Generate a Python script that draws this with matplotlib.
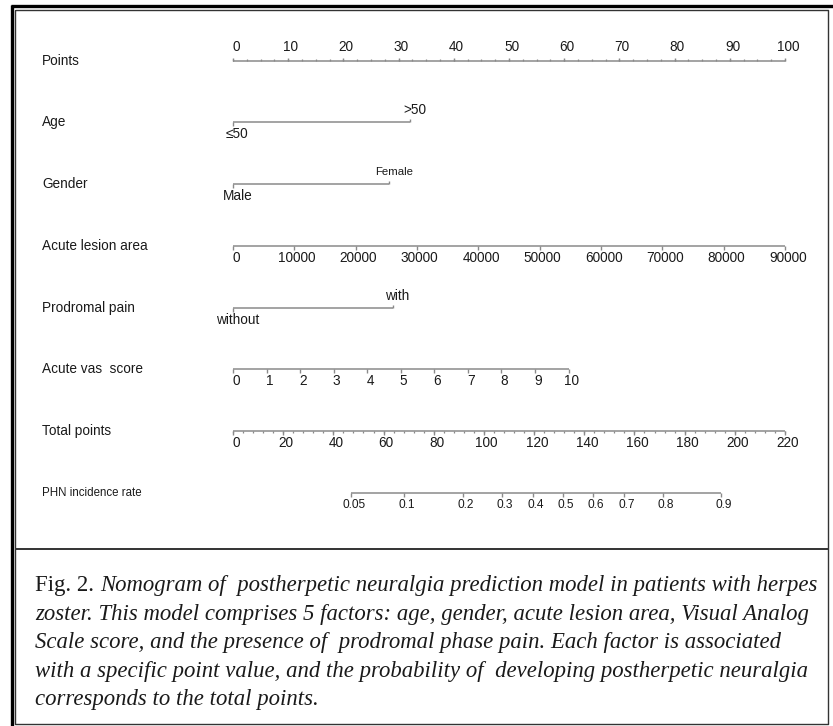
import numpy as np
import matplotlib.pyplot as plt
from matplotlib.lines import Line2D

plt.rcParams['font.family'] = ['Liberation Sans', 'DejaVu Sans']

W, H = 833, 726

# ---- data ----
row_names = ["Points", "Age", "Gender", "Acute lesion area", "Prodromal pain",
             "Acute vas  score", "Total points", "PHN incidence rate"]

points_ticks = np.arange(0, 101, 10)
points_minor = np.arange(0, 100.1, 2.5)

age_labels = ["≤50", ">50"]
age_points = [0, 32.1]
gender_labels = ["Male", "Female"]
gender_points = [0, 28.3]
pain_labels = ["without", "with"]
pain_points = [0, 28.9]

lesion_ticks = np.arange(0, 90001, 10000)
lesion_points_at_max = 100.0      # 90000 -> 100 points
vas_ticks = np.arange(0, 11)
vas_points_at_max = 60.8          # score 10 -> 60.8 points

total_ticks = np.arange(0, 221, 20)
total_minor = np.arange(0, 221, 4)
total_max = 220

phn_labels = ["0.05", "0.1", "0.2", "0.3", "0.4", "0.5", "0.6", "0.7", "0.8", "0.9"]
phn_total_points = [47.0, 68.2, 91.7, 107.2, 119.6, 131.5, 143.5, 155.8, 171.4, 194.5]

caption_lines = [
    "Nomogram of  postherpetic neuralgia prediction model in patients with herpes",
    "zoster. This model comprises 5 factors: age, gender, acute lesion area, Visual Analog",
    "Scale score, and the presence of  prodromal phase pain. Each factor is associated",
    "with a specific point value, and the probability of  developing postherpetic neuralgia",
    "corresponds to the total points.",
]

# ---- layout ----
row_y = [61, 122, 184, 246, 308, 369, 431, 493]
x0_px, x100_px = 233, 785
ppx = (x100_px - x0_px) / 100.0
LINE = '#8a8a8a'
TXT = '#1a1a1a'

fig = plt.figure(figsize=(W / 100, H / 100), dpi=100)
ax = fig.add_axes([0, 0, 1, 1])
ax.set_xlim(-x0_px / ppx, (W - x0_px) / ppx)
ax.set_ylim(H, 0)
ax.axis('off')


def axis_line(y, pos, major, minor=None, direction=1, labels=None, label_dy=12,
              size=9.8, ln=3.5):
    ax.plot([pos[0], pos[-1]], [y, y], color=LINE, lw=1.1, solid_capstyle='butt')
    ax.vlines(major, y, y + direction * ln, color=LINE, lw=1.0)
    if minor is not None:
        ax.vlines(minor, y, y + direction * 1.8, color=LINE, lw=0.9)
    if labels is not None:
        for p, s in zip(major, labels):
            ax.text(p + 0.5, y + label_dy, s, ha='center', va='center',
                    fontsize=size, color=TXT)


def cat_line(y, pos, labels, size_hi=9.8, size_lo=9.8):
    ax.plot([pos[0], pos[1]], [y, y], color=LINE, lw=1.1, solid_capstyle='butt')
    ax.vlines([pos[0]], y, y + 3.5, color=LINE, lw=1.0)
    ax.vlines([pos[1]], y, y - 3.5, color=LINE, lw=1.0)
    ax.text(pos[0] + 0.8, y + 12, labels[0], ha='center', va='center',
            fontsize=size_lo, color=TXT)
    ax.text(pos[1] + 0.8, y - 12, labels[1], ha='center', va='center',
            fontsize=size_hi, color=TXT)


# row titles
for name, y in zip(row_names, row_y):
    fs = 8.3 if name.startswith("PHN") else 9.8
    ax.text(-(x0_px - 42) / ppx, y, name, ha='left', va='center', fontsize=fs, color=TXT)

# Points
axis_line(row_y[0], points_ticks, points_ticks, minor=points_minor, direction=-1,
          labels=[str(v) for v in points_ticks], label_dy=-14)

# categorical rows
cat_line(row_y[1], age_points, age_labels)
cat_line(row_y[2], gender_points, gender_labels, size_hi=8.2)
cat_line(row_y[4], pain_points, pain_labels)

# acute lesion area
lesion_pos = lesion_ticks / lesion_ticks[-1] * lesion_points_at_max
axis_line(row_y[3], lesion_pos, lesion_pos, labels=[str(v) for v in lesion_ticks])

# VAS score
vas_pos = vas_ticks / vas_ticks[-1] * vas_points_at_max
axis_line(row_y[5], vas_pos, vas_pos, labels=[str(v) for v in vas_ticks])

# total points
tot_pos = total_ticks / total_max * 100
tot_minor = total_minor / total_max * 100
axis_line(row_y[6], tot_pos, tot_pos, minor=tot_minor,
          labels=[str(v) for v in total_ticks])

# PHN incidence rate
phn_pos = np.array(phn_total_points) / total_max * 100
axis_line(row_y[7], phn_pos, phn_pos, labels=phn_labels, size=8.6)


# ---- frame ----
def px(x, y):
    return x / W, 1 - y / H


def fig_line(xs, ys, **kw):
    fx = [x / W for x in xs]
    fy = [1 - y / H for y in ys]
    fig.add_artist(Line2D(fx, fy, transform=fig.transFigure,
                          solid_capstyle='butt', **kw))


fig_line([11, 833], [6, 6], color='black', lw=2.4)
fig_line([12, 12], [5, 726], color='black', lw=2.4)
fig_line([15, 828, 828, 15, 15], [9.5, 9.5, 724, 724, 9.5], color='#333333', lw=1.0)
fig_line([15, 828], [549, 549], color='#333333', lw=1.4)

# ---- caption ----
cap_x, cap_y0, cap_dy = 35, 586, 28.4
cap_size = 16.4
fig.canvas.draw()
first = fig.text(*px(cap_x, cap_y0), "Fig. 2. ", family='Liberation Serif',
                 fontsize=cap_size, color=TXT, ha='left', va='center')
ax.annotate(caption_lines[0], xy=(1, 0.5), xycoords=first, ha='left', va='center',
            family='Liberation Serif', style='italic', fontsize=cap_size, color=TXT)
for i, line in enumerate(caption_lines[1:], start=1):
    fig.text(*px(cap_x, cap_y0 + i * cap_dy), line, family='Liberation Serif',
             style='italic', fontsize=cap_size, color=TXT, ha='left', va='center')

fig.savefig('out.png', dpi=100)
